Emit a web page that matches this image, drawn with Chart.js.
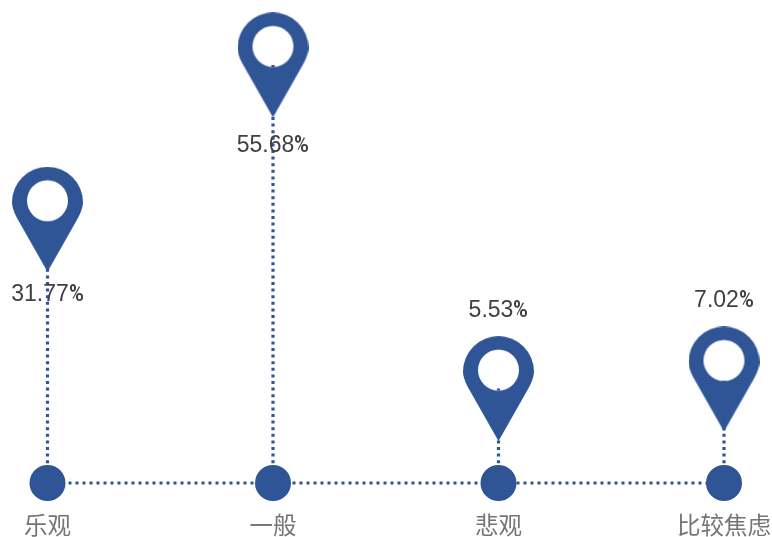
<!DOCTYPE html>
<html>
<head>
<meta charset="utf-8">
<style>
html,body{margin:0;padding:0;background:#fff}canvas{display:block}
@font-face{font-family:PctNarrow;src:local("Liberation Sans Narrow"),local("LiberationSansNarrow"),local("Roboto Condensed"),local("Roboto");unicode-range:U+25;size-adjust:100%;}
</style>
<script src="https://cdn.jsdelivr.net/npm/chart.js@4"></script>
</head>
<body>
<canvas id="c" width="772" height="537"></canvas>
<script>
const categories = ['乐观', '一般', '悲观', '比较焦虑'];
const percentValues = [31.77, 55.68, 5.53, 7.02];
const axisFloor = -9.1;
const axisCeil = 60;
const labelShift = [75, 81, -77.5, -78];
const blue = '#2F5597';

function makePin() {
  const w = 71, h = 105, cv = document.createElement('canvas');
  cv.width = w; cv.height = h;
  const g = cv.getContext('2d');
  const r = w / 2;
  g.beginPath();
  g.arc(r, r, r, Math.PI, 0);
  g.bezierCurveTo(w, 41, w - 3, 47.8, w - 6, 53);
  g.lineTo(r, h);
  g.lineTo(6, 53);
  g.bezierCurveTo(3, 47.8, 0, 41, 0, r);
  g.closePath();
  g.moveTo(r + 20.5, 34);
  g.arc(r, 34, 20.5, 0, Math.PI * 2);
  g.fillStyle = blue;
  g.fill('evenodd');
  return cv;
}

const valueLabels = {
  id: 'valueLabels',
  afterDatasetsDraw(chart) {
    const { ctx, scales } = chart;
    ctx.save();
    ctx.font = '23px PctNarrow, "Liberation Sans"';
    ctx.fillStyle = '#404040';
    ctx.textAlign = 'center';
    ctx.textBaseline = 'middle';
    percentValues.forEach((v, i) => {
      const t = v.toFixed(2) + '%';
      ctx.fillText(t, scales.x.getPixelForValue(i), scales.y.getPixelForValue(v) + labelShift[i]);
    });
    ctx.restore();
  }
};

const stems = categories.map((c, i) => ({
  data: [{ x: c, y: axisFloor }, { x: c, y: percentValues[i] }],
  borderColor: blue, borderWidth: 3.2, borderDash: [3, 3.6],
  pointRadius: 0, clip: false
}));

function draw() {
  new Chart(document.getElementById('c'), {
    type: 'line',
    data: {
      labels: categories,
      datasets: [
        { data: categories.map(() => axisFloor), borderColor: blue, borderWidth: 3.2, borderDash: [3, 4],
          pointRadius: 18, pointBackgroundColor: blue, pointBorderWidth: 0, clip: false },
        ...stems,
        { data: percentValues, showLine: false, pointStyle: makePin(), pointRadius: 35, clip: false }
      ]
    },
    options: {
      responsive: false,
      animation: false,
      layout: { padding: { left: 47.5, right: 48, top: 37, bottom: 0 } },
      plugins: { legend: { display: false }, tooltip: { enabled: false } },
      scales: {
        x: {
          offset: false,
          grid: { display: false },
          border: { display: false },
          ticks: { color: '#757575', font: { family: '"Noto Sans CJK SC"', size: 23.5 }, padding: 20, maxRotation: 0, autoSkip: false },
          afterFit(s) { s.height = 54; s.paddingLeft = 0; s.paddingRight = 0; s.paddingTop = 0; s.paddingBottom = 0; }
        },
        y: { display: false, min: axisFloor, max: axisCeil }
      }
    },
    plugins: [valueLabels]
  });
}
document.fonts.load('23px PctNarrow', '%').then(draw, draw);
</script>
</body>
</html>
